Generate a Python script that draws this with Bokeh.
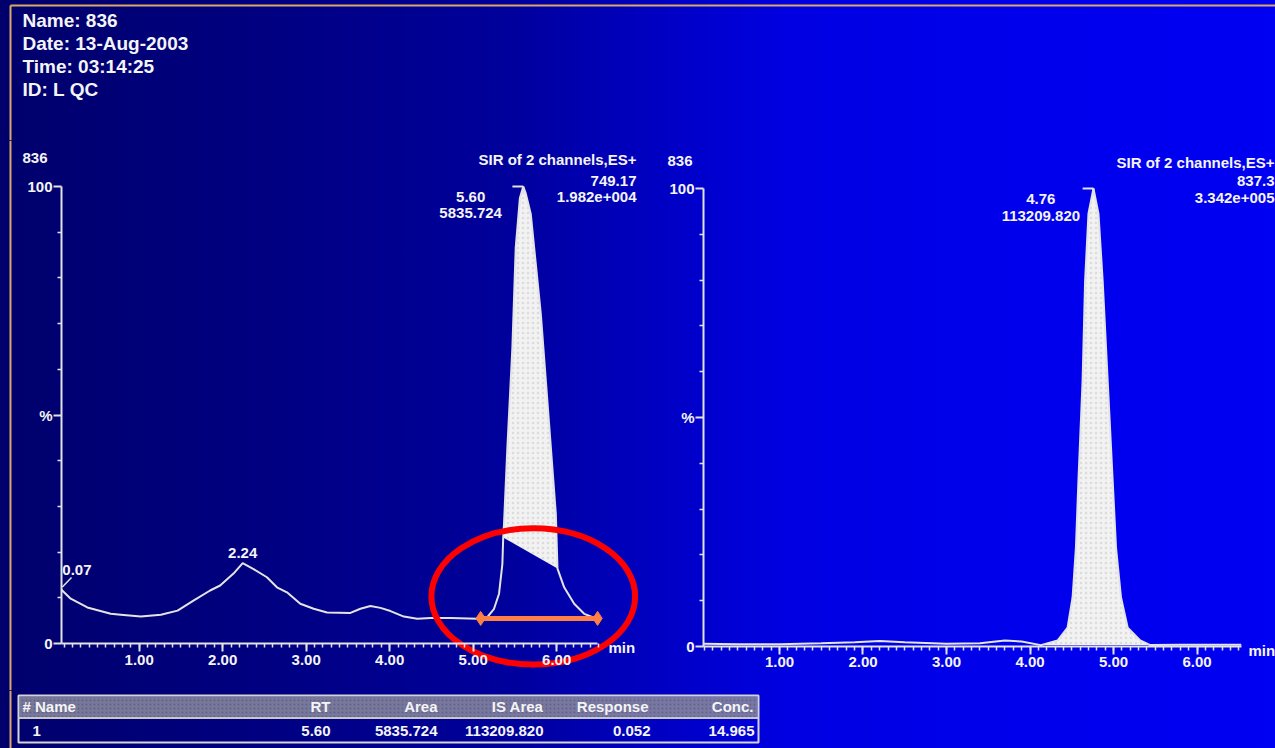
import numpy as np
from bokeh.plotting import figure
from bokeh.layouts import column, row
from bokeh.models import FixedTicker, PrintfTickFormatter, Range1d
from bokeh.core.properties import value
from bokeh.embed import file_html
from bokeh.resources import INLINE

# ---------------- data ----------------
header_lines = ["Name: 836", "Date: 13-Aug-2003", "Time: 03:14:25", "ID: L QC"]

# left chromatogram (analyte channel), RT in min, intensity in %
left_rt = [0.07, 0.18, 0.38, 0.66, 0.78, 1.02, 1.26, 1.46, 1.65, 1.85, 1.97, 2.13, 2.24,
           2.37, 2.53, 2.65, 2.77, 2.93, 3.09, 3.25, 3.53, 3.65, 3.77, 3.89, 4.01, 4.17,
           4.33, 4.49, 4.73, 5.05, 5.17, 5.25, 5.31, 5.35, 5.36, 5.37, 5.41, 5.47, 5.51,
           5.56, 5.60, 5.63, 5.69, 5.81, 5.90, 5.99, 6.01, 6.09, 6.21, 6.33, 6.44, 6.49]
left_pct = [11.75, 9.8, 7.9, 6.5, 6.3, 5.9, 6.3, 7.2, 9.4, 11.6, 12.7, 15.3, 17.6,
            16.3, 14.5, 12.3, 11.2, 8.7, 7.6, 6.8, 6.7, 7.6, 8.2, 7.8, 7.1, 5.9,
            5.4, 5.6, 5.6, 5.4, 5.8, 7.6, 10.9, 17.4, 23.2, 26.3, 42.9, 64.8, 86.7,
            97.5, 100.0, 98.5, 94.0, 72.2, 50.3, 28.4, 16.4, 12.3, 8.7, 6.5, 5.7, 5.5]

# right chromatogram (internal standard channel)
right_rt = [0.09, 0.5, 1.0, 1.5, 1.9, 2.2, 2.5, 3.0, 3.4, 3.7, 3.9, 4.13, 4.33, 4.45,
            4.51, 4.55, 4.58, 4.63, 4.66, 4.70, 4.76, 4.82, 4.87, 4.93, 4.99, 5.03,
            5.09, 5.17, 5.32, 5.44, 5.8, 6.2, 6.53]
right_pct = [0.6, 0.5, 0.5, 0.7, 0.9, 1.2, 0.9, 0.6, 0.7, 1.3, 1.1, 0.3, 1.3, 4.1,
             10.7, 21.6, 36.2, 58.1, 79.9, 94.5, 100.0, 94.5, 79.9, 58.1, 36.2, 21.6,
             10.7, 4.1, 1.3, 0.3, 0.4, 0.4, 0.4]

left_info = ["SIR of 2 channels,ES+", "749.17", "1.982e+004"]
right_info = ["SIR of 2 channels,ES+", "837.3", "3.342e+005"]
sample_id = "836"

left_peak_rt, left_peak_lbl, left_peak_area = 5.60, "5.60", "5835.724"
right_peak_rt, right_peak_lbl, right_peak_area = 4.76, "4.76", "113209.820"
left_small_rt = [0.07, 2.24]
left_small_lbl = ["0.07", "2.24"]
left_int = [5.36, 6.01]      # integrated window (filled)
right_int = [4.13, 5.44]
arrow_span = [5.09, 6.49]    # orange double arrow
arrow_level = 5.5
ring_center = (5.72, 10.3)   # red ellipse
ring_size = (2.44, 29.8)

table_cols = ["# Name", "RT", "Area", "IS Area", "Response", "Conc."]
table_vals = ["1", "5.60", "5835.724", "113209.820", "0.052", "14.965"]

# ---------------- style ----------------
FONT = "Liberation Sans"
TXT = "#f4f4f4"
AX = "#e2e2e2"
FILL = "#f2f2f2"
TAN = "#d9a868"


def base_fig(w, h, xr, yr):
    p = figure(width=w, height=h, x_range=xr, y_range=yr, output_backend="svg",
               toolbar_location=None, background_fill_alpha=0, border_fill_alpha=0,
               outline_line_color=None, min_border=0)
    p.xgrid.visible = False
    p.ygrid.visible = False
    return p


def chart(width, xr, yr, x0, xbounds, rt, pct, info, info_x, info_y,
          peak_rt, peak_lbl, peak_area, peak_lbl_y, fill_win, id_xy, min_xy):
    p = base_fig(width, 550, Range1d(*xr), Range1d(*yr))
    xa = p.xaxis[0]
    xa.fixed_location = 0
    xa.ticker = FixedTicker(ticks=[1, 2, 3, 4, 5, 6],
                            minor_ticks=[round(v, 2) for v in np.arange(0.1, 6.55, 0.1)])
    xa.formatter = PrintfTickFormatter(format="%.2f")
    xa.bounds = xbounds
    ya = p.yaxis[0]
    ya.fixed_location = x0
    ya.ticker = FixedTicker(ticks=[0, 50, 100], minor_ticks=[10, 20, 30, 40, 60, 70, 80, 90])
    ya.major_label_overrides = {0: "0", 50: "%", 100: "100"}
    ya.bounds = (0, 100)
    for a in (xa, ya):
        a.axis_line_color = AX
        a.axis_line_width = 2
        a.major_tick_line_color = AX
        a.major_tick_line_width = 2
        a.minor_tick_line_color = AX
        a.minor_tick_line_width = 1.5
        a.major_tick_in = 0
        a.minor_tick_in = 0
        a.major_tick_out = 8
        a.minor_tick_out = 4
        a.major_label_text_color = TXT
        a.major_label_text_font = FONT
        a.major_label_text_font_style = "bold"
        a.major_label_text_font_size = "15px"
    xa.major_label_standoff = 3
    ya.major_label_standoff = 1

    rt_a = np.array(rt)
    pct_a = np.array(pct)
    sel = (rt_a >= fill_win[0]) & (rt_a <= fill_win[1])
    p.patch(list(rt_a[sel]), list(pct_a[sel]), fill_color=FILL, line_color=None,
            hatch_pattern="dot", hatch_color="#9a9a9a", hatch_alpha=0.25, hatch_scale=5)
    p.line(rt, pct, line_color="#e4e4e4", line_width=2)

    tk = dict(text_baseline="middle", text_color=TXT, text_font=value(FONT),
              text_font_style="bold", text_font_size="15px")
    p.text(x=[info_x] * 3, y=info_y, text=info, text_align="right", **tk)
    p.text(x=[peak_rt - 0.63] * 2, y=peak_lbl_y, text=[peak_lbl, peak_area],
           text_align="center", **tk)
    p.segment(x0=[peak_rt - 0.13, peak_rt], y0=[100, 100], x1=[peak_rt, peak_rt],
              y1=[100, 98.3], line_color=AX, line_width=2)
    p.text(x=[id_xy[0]], y=[id_xy[1]], text=[sample_id], text_align="left", **tk)
    p.text(x=[min_xy[0]], y=[min_xy[1]], text=["min"], text_align="left", **tk)
    return p


# left chart: figure x 0..648 px, y 140..690 px; 0.07 min at px 61, 83.5 px/min;
# 0 % at px 643, 4.57 px/%
left = chart(648, (-0.6605, 7.100), (-10.28, 110.07), 0.07, (0.07, 6.49), left_rt, left_pct,
             left_info, 6.956, [105.9, 101.3, 97.8],
             left_peak_rt, left_peak_lbl, left_peak_area, [97.6, 94.3], left_int,
             (-0.397, 106.3), (6.62, -0.9))
# right chart: figure x 648..1275 px; 0.09 min at px 703; 0 % at px 646, 4.58 px/%
right = chart(627, (-0.5687, 6.940), (-9.61, 110.48), 0.09, (0.09, 6.53), right_rt, right_pct,
              right_info, 6.928, [105.7, 101.7, 98.0],
              right_peak_rt, right_peak_lbl, right_peak_area, [97.6, 94.1], right_int,
              (-0.341, 106.1), (6.617, -0.9))

# small peak labels on the left chart
left.text(x=[left_small_rt[0] + 0.01, left_small_rt[1]], y=[16.0, 19.8], text=left_small_lbl,
          text_align=["left", "center"], text_baseline="middle", text_color=TXT,
          text_font=value(FONT), text_font_style="bold", text_font_size="15px")
left.segment(x0=[left_small_rt[0] + 0.01], y0=[left_pct[0] + 0.6], x1=[left_small_rt[0] + 0.12],
             y1=[left_pct[0] + 2.7], line_color=AX, line_width=1.5)

# orange double arrow
left.segment(x0=[arrow_span[0]], y0=[arrow_level], x1=[arrow_span[1]], y1=[arrow_level],
             line_color="#ff7f45", line_width=5)
left.scatter(x=arrow_span, y=[arrow_level] * 2, marker="diamond", size=14,
             fill_color="#ff7f45", line_color="#ff7f45")

# red ring
left.ellipse(x=[ring_center[0]], y=[ring_center[1]], width=[ring_size[0]],
             height=[ring_size[1]], fill_alpha=0, line_color="#ff0000", line_width=6)

# tan frame line on the left edge of the chart area
left.segment(x0=[-0.541], y0=[-10.28], x1=[-0.541], y1=[110.07], line_color=TAN, line_width=2)

# ---------------- header ----------------
head = base_fig(1275, 140, Range1d(0, 1275), Range1d(140, 0))
head.axis.visible = False
head.segment(x0=[10, 10], y0=[5, 5], x1=[1275, 10], y1=[5, 140], line_color=TAN, line_width=2)
head.text(x=[22] * 4, y=[20, 43, 66, 89], text=header_lines, text_baseline="middle",
          text_color=TXT, text_font=value(FONT), text_font_style="bold", text_font_size="19px")

# ---------------- results table ----------------
tab = base_fig(1275, 58, Range1d(0, 1275), Range1d(58, 0))
tab.axis.visible = False
tab.segment(x0=[10], y0=[0], x1=[10], y1=[58], line_color=TAN, line_width=2)
tab.quad(left=[19], right=[757], top=[6], bottom=[27], fill_color="#85859e",
         fill_alpha=0.9, line_color=None, hatch_pattern="dot", hatch_color="#4a4a70",
         hatch_alpha=0.5, hatch_scale=4)
tab.quad(left=[18], right=[758], top=[5], bottom=[52], fill_alpha=0,
         line_color="#d4d4d4", line_width=2)
tab.segment(x0=[18], y0=[27.5], x1=[758], y1=[27.5], line_color="#c8c8c8", line_width=2)
col_x = [22, 330, 437, 543, 648, 753]
val_x = [32, 330, 437, 543, 650, 754]
aligns = ["left"] + ["right"] * 5
tab.text(x=col_x, y=[16] * 6, text=table_cols, text_align=aligns, text_baseline="middle",
         text_color=TXT, text_font=value(FONT), text_font_style="bold", text_font_size="15px")
tab.text(x=val_x, y=[40] * 6, text=table_vals, text_align=aligns, text_baseline="middle",
         text_color=TXT, text_font=value(FONT), text_font_style="bold", text_font_size="15px")

page = column(head, row(left, right), tab,
              styles={"background": "linear-gradient(to right, #00006c 0%, #000080 20%, "
                                    "#00009c 40%, #0000c4 52%, #0000e2 62%, #0000ec 80%, "
                                    "#0000f2 100%)"})

open("out.html", "w").write(file_html(page, INLINE))
